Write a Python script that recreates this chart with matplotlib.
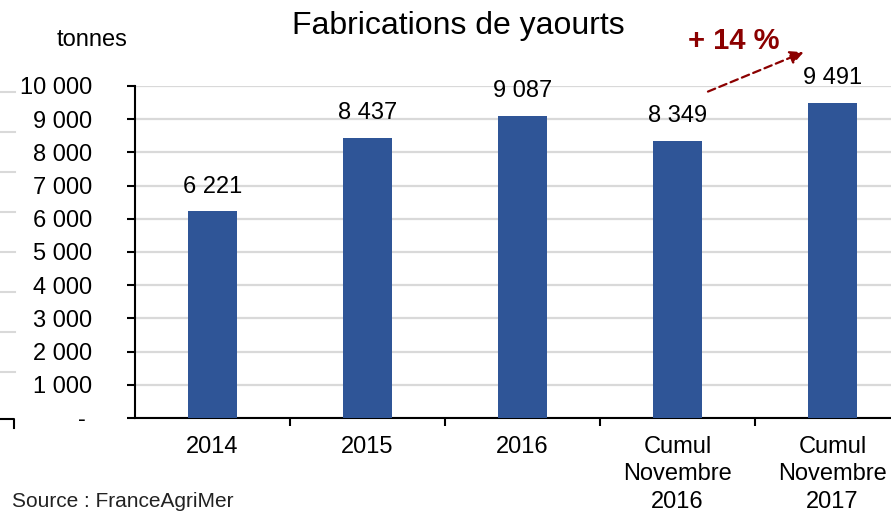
import matplotlib
matplotlib.use("Agg")
import matplotlib.pyplot as plt
from matplotlib.lines import Line2D

plt.rcParams["font.family"] = ["Liberation Sans", "DejaVu Sans"]

# data (tonnes)
categories = ["2014", "2015", "2016", "Cumul\nNovembre\n2016", "Cumul\nNovembre\n2017"]
values = [6221, 8437, 9087, 8349, 9491]
yticks = list(range(0, 10001, 1000))
growth_label = "+ 14 %"

BAR_COLOR = "#2f5597"
DARK_RED = "#8b0000"
FS = 17


def fmt(v):
    if v == 0:
        return "- "
    return f"{v:,.0f}".replace(",", " ")


W, H = 891, 513
fig = plt.figure(figsize=(W / 100, H / 100), dpi=100)
ax = fig.add_axes([135 / W, 1 - 418 / H, 775 / W, 332 / H])

x = list(range(len(categories)))
ax.bar(x, values, width=0.31, color=BAR_COLOR, zorder=3)

for xi, v in zip(x, values):
    ax.annotate(fmt(v), (xi, v), xytext=(0, 10), textcoords="offset points",
                ha="center", va="bottom", fontsize=FS)

ax.set_xlim(-0.5, len(categories) - 0.5)
ax.set_ylim(0, 10000)
ax.set_yticks(yticks)
ax.set_yticklabels([fmt(v) for v in yticks], fontsize=FS)
ax.set_xticks(x)
ax.set_xticklabels(categories, fontsize=FS, linespacing=1.32)
ax.set_xticks([i + 0.5 for i in x], minor=True)
ax.tick_params(axis="x", which="major", length=0, pad=13)
ax.tick_params(axis="x", which="minor", length=6, width=1.5, direction="out")
ax.tick_params(axis="y", length=6, width=1.5, direction="out", pad=25)

ax.set_axisbelow(True)
ax.yaxis.grid(True, color="#d9d9d9", linewidth=1.6)
for s in ["top", "right"]:
    ax.spines[s].set_visible(False)
for s in ["left", "bottom"]:
    ax.spines[s].set_linewidth(1.5)
    ax.spines[s].set_color("black")

# growth arrow between the two cumulative bars
ax.annotate("", xy=(3.83, 11050), xytext=(3.18, 9800),
            arrowprops=dict(arrowstyle="-|>", color=DARK_RED, lw=1.6,
                            linestyle=(0, (3.5, 2)), mutation_scale=20),
            annotation_clip=False)
ax.text(3.36, 11370, growth_label, color=DARK_RED, fontsize=21,
        fontweight="bold", ha="center", va="center", clip_on=False)

fig.text(458 / W, 1 - 26 / H, "Fabrications de yaourts", fontsize=23,
         ha="center", va="center")
fig.text(92 / W, 1 - 40 / H, "tonnes", fontsize=FS, ha="center", va="center")
fig.text(12 / W, 1 - 492 / H, "Source : FranceAgriMer", fontsize=15,
         ha="left", va="top", color="#222222")

# remnants of the neighbouring chart at the left edge of the crop
for yp in range(92, 380, 40):
    fig.add_artist(Line2D([0, 15 / W], [1 - yp / H] * 2, color="#d9d9d9", lw=1.5))
fig.add_artist(Line2D([0, 14 / W, 14 / W], [1 - 419 / H, 1 - 419 / H, 1 - 428 / H],
                      color="black", lw=1.5))

fig.savefig("out.png", dpi=100)
